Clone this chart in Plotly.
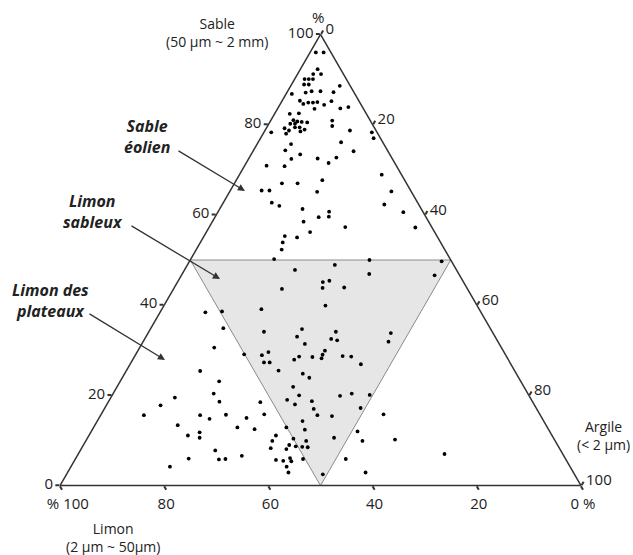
import plotly.graph_objects as go

# Sample composition (%)
sable = [96.0, 96.0, 92.3, 91.2, 91.2, 90.1, 90.1, 90.1, 88.9, 88.9, 88.6, 86.8, 87.1, 87.4, 87.4, 87.2,
         85.3, 84.6, 84.9, 84.9, 85.0, 84.4, 85.2, 83.5, 83.6, 83.9, 82.4, 82.5, 81.0, 80.7, 80.6, 80.5,
         80.2, 80.2, 79.2, 78.7, 79.4, 79.4, 78.9, 78.5, 78.0, 80.9, 79.7, 78.7, 78.3, 77.0, 78.3, 75.7,
         76.1, 74.3, 73.4, 74.1, 72.4, 72.5, 72.7, 71.5, 70.9, 70.8, 68.9, 67.7, 67.0, 67.0, 65.4, 65.4,
         65.1, 65.2, 62.7, 62.0, 62.3, 61.3, 60.7, 59.6, 59.5, 60.6, 58.5, 57.3, 57.2, 56.2, 55.3, 55.0,
         53.9, 52.3, 50.2, 50.0, 49.7, 48.9, 47.8, 46.9, 46.6, 45.1, 45.4, 43.8, 43.9, 43.6, 38.4, 38.6,
         39.1, 39.9, 34.9, 34.1, 34.7, 34.1, 33.8, 33.0, 32.5, 32.2, 31.9, 31.4, 30.6, 29.1, 28.9, 29.6,
         27.3, 27.3, 27.9, 28.6, 28.5, 29.9, 29.0, 28.2, 28.7, 28.6, 26.9, 25.5, 25.4, 24.8, 23.9, 23.1,
         21.9, 20.0, 20.4, 19.5, 18.6, 18.5, 19.0, 18.7, 19.9, 20.4, 20.1, 17.8, 18.0, 17.0, 15.6, 15.6,
         15.6, 14.8, 15.7, 15.0, 15.8, 13.4, 12.9, 12.5, 14.3, 12.4, 12.9, 11.1, 11.8, 10.6, 11.1, 9.9,
         8.3, 10.4, 8.7, 9.0, 8.1, 8.6, 9.9, 8.5, 7.8, 6.0, 5.8, 5.9, 6.6, 5.7, 5.5, 6.1,
         5.4, 5.9, 4.2, 2.9, 4.2, 17.2, 15.8, 15.4, 12.0, 9.9, 10.2, 10.6, 5.9, 7.0, 2.9, 2.5]
argile = [1.1, 2.6, 3.3, 3.0, 4.5, 1.9, 2.7, 3.5, 2.4, 3.3, 9.4, 1.1, 3.6, 4.6, 6.3, 8.9,
          3.4, 4.4, 5.2, 6.1, 6.9, 8.5, 9.5, 7.1, 12.0, 13.4, 2.9, 4.6, 4.3, 5.2, 6.1, 7.2,
          4.1, 5.0, 3.5, 4.6, 5.4, 6.3, 7.5, 6.9, 4.4, 11.8, 12.4, 16.3, 20.7, 21.7, 1.4, 6.5,
          15.9, 6.1, 9.4, 19.3, 8.2, 13.2, 16.7, 15.8, 4.2, 7.7, 27.3, 16.5, 9.1, 12.1, 6.0, 7.5,
          16.8, 31.0, 9.3, 11.1, 31.1, 15.9, 21.3, 21.8, 19.9, 35.6, 17.5, 26.1, 39.6, 19.9, 15.5, 18.0,
          15.8, 16.4, 16.0, 34.4, 48.4, 28.3, 21.2, 35.9, 48.6, 27.9, 29.0, 28.5, 32.6, 20.8, 8.7, 11.8,
          19.1, 31.0, 13.9, 22.1, 29.1, 35.9, 46.6, 29.0, 35.8, 37.1, 47.1, 31.3, 14.3, 20.8, 24.3, 25.2,
          25.5, 26.6, 31.0, 31.6, 34.2, 35.9, 35.9, 36.1, 39.9, 41.6, 44.3, 29.2, 14.2, 34.2, 35.9, 19.0,
          33.8, 35.9, 19.3, 12.3, 21.3, 29.2, 34.1, 39.0, 43.8, 45.8, 49.4, 10.4, 36.1, 40.2, 41.6, 8.3,
          19.1, 21.3, 24.0, 28.3, 31.3, 15.9, 27.6, 31.1, 39.4, 40.8, 37.0, 19.0, 20.9, 21.5, 35.9, 35.8,
          36.3, 39.6, 40.9, 39.5, 39.4, 42.2, 42.3, 43.3, 25.9, 21.7, 27.6, 28.8, 31.6, 38.6, 40.1, 41.1,
          41.7, 43.7, 41.4, 42.4, 19.0, 49.1, 54.2, 44.5, 51.1, 53.1, 59.2, 47.3, 51.9, 70.3, 57.2, 49.2]
limon = [round(100 - s - a, 1) for s, a in zip(sable, argile)]

# "Limon sableux" domain (medial triangle)
zone_sable = [50, 50, 0, 50]
zone_limon = [50, 0, 50, 50]
zone_argile = [0, 50, 50, 0]

tick_vals = [0, 20, 40, 60, 80, 100]
tick_text = ["0", "20", "40", "60", "80", "100"]
NB = "\u00a0"
limon_tick_text = ["0" + NB + "%", "20", "40", "60", "80", NB * 3 + "%" + NB + "100"]

FONT = "Open Sans"
INK = "#222222"

fig = go.Figure()
fig.add_trace(go.Scatterternary(
    a=zone_sable, b=zone_limon, c=zone_argile, mode="lines", fill="toself",
    fillcolor="#e6e6e6", line=dict(color="#8a8a8a", width=1), hoverinfo="skip", showlegend=False))
fig.add_trace(go.Scatterternary(
    a=sable, b=limon, c=argile, mode="markers",
    marker=dict(size=3.8, color="black"), showlegend=False))

def axis(ticktext):
    return dict(tickmode="array", tickvals=tick_vals, ticktext=ticktext, ticks="outside",
                ticklen=4, tickwidth=1.5, tickcolor="#333", showgrid=False, showline=True,
                linecolor="#333", linewidth=1.5,
                tickfont=dict(family=FONT, size=15, color=INK), title=dict(text=""))

fig.update_layout(
    width=633, height=555,
    margin=dict(l=60, r=52, t=32, b=67),
    paper_bgcolor="white",
    font=dict(family=FONT, color=INK),
    ternary=dict(sum=100, bgcolor="white",
                 domain=dict(x=[0, 1], y=[0, 1]),
                 aaxis=axis(tick_text), baxis=axis(limon_tick_text), caxis=axis(tick_text)),
)

def px2paper(px, py):
    return (px - 60) / 521, (488 - py) / 456

texts = [
    ("Sable<br>(50 µm ~ 2 mm)", 217, 32, 14),
    ("%", 318, 17, 15),
    ("Argile<br>(&lt; 2 µm)", 603, 435, 14),
    ("Limon<br>(2 µm ~ 50µm)", 113, 537, 14),
    ("<b><i>Sable<br>éolien</i></b>", 147, 136, 16),
    ("<b><i>Limon<br>sableux</i></b>", 93, 211, 16),
    ("<b><i>Limon des<br>plateaux</i></b>", 50, 300, 16),
]
for t, px, py, sz in texts:
    x, y = px2paper(px, py)
    fig.add_annotation(x=x, y=y, xref="paper", yref="paper", text=t, showarrow=False,
                       xanchor="center", yanchor="middle", align="center",
                       font=dict(family=FONT, size=sz, color=INK))

arrows = [((245, 191), (177, 150)), ((220, 279), (130, 225)), ((165, 360), (88, 313))]
for (hx, hy), (tx, ty) in arrows:
    x, y = px2paper(hx, hy)
    fig.add_annotation(x=x, y=y, xref="paper", yref="paper", text="", showarrow=True,
                       ax=tx - hx, ay=ty - hy, arrowhead=2, arrowsize=1.1, arrowwidth=1.3,
                       arrowcolor="#333")

fig.write_html("out.html", config={"displayModeBar": False},
               post_script="document.body.style.margin='0';document.body.style.overflow='hidden';")
